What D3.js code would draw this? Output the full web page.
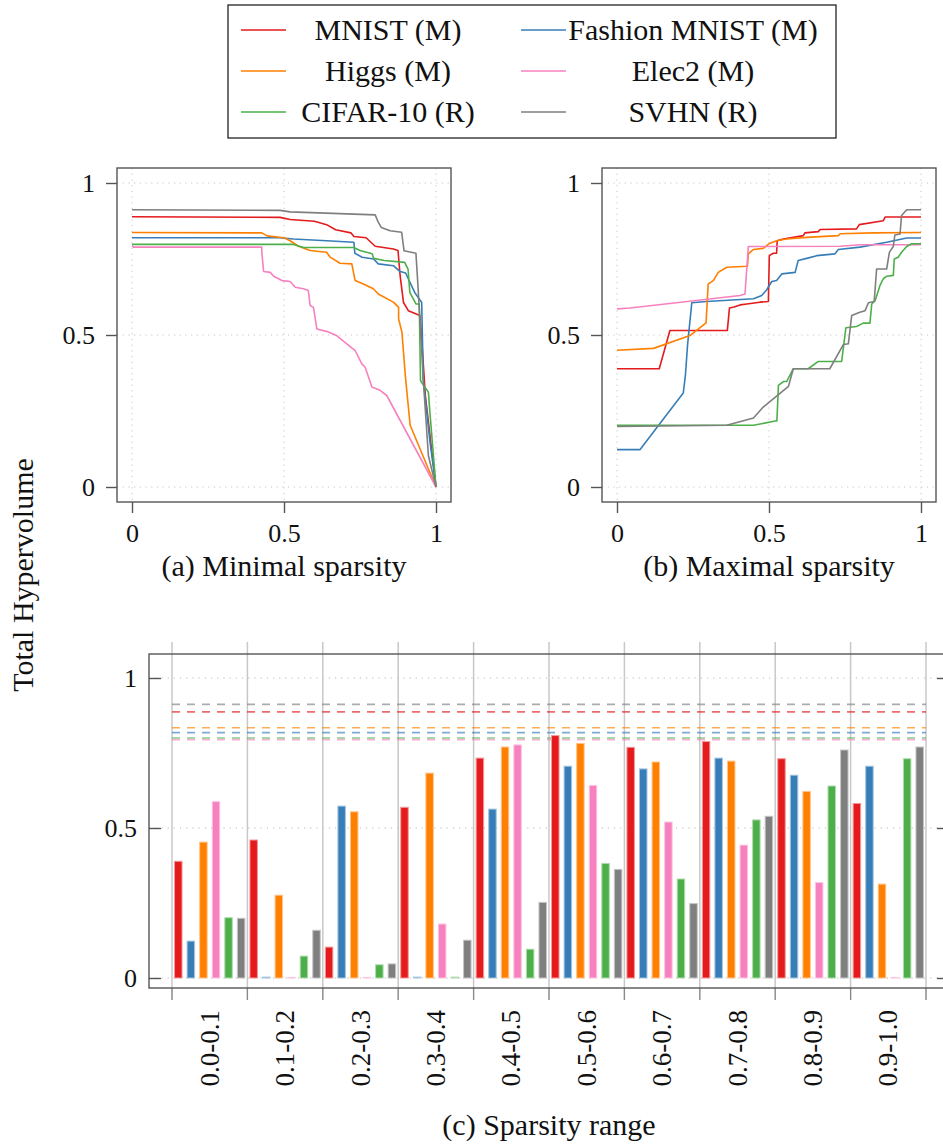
<!DOCTYPE html>
<html>
<head>
<meta charset="utf-8">
<script src="https://cdn.jsdelivr.net/npm/d3@7"></script>
<style>
body { margin: 0; background: #fff; }
svg text { font-family: "Liberation Serif", "DejaVu Serif", serif; }
</style>
</head>
<body>
<div id="graph"></div>
<script>
`use strict`;

// series (same order for legend, lines and bars)
let seriesNames = ['MNIST (M)', 'Fashion MNIST (M)', 'Higgs (M)', 'Elec2 (M)', 'CIFAR-10 (R)', 'SVHN (R)'];
let seriesColors = ['#e41a1c', '#377eb8', '#ff7f00', '#f781bf', '#4daf4a', '#7f7f7f'];

// (a) minimal sparsity: [sparsity, total hypervolume]
let minMNIST = [[0,0.889],[0.487,0.887],[0.52,0.88],[0.6,0.874],[0.64,0.863],[0.67,0.846],[0.72,0.836],[0.73,0.824],[0.77,0.82],[0.8,0.792],[0.86,0.783],[0.875,0.778],[0.882,0.695],[0.893,0.607],[0.909,0.58],[0.947,0.564],[0.952,0.5],[0.965,0.3],[1,0]];
let minFashion = [[0,0.82],[0.487,0.82],[0.53,0.816],[0.64,0.81],[0.73,0.805],[0.733,0.769],[0.757,0.756],[0.795,0.75],[0.81,0.734],[0.86,0.728],[0.88,0.71],[0.9,0.704],[0.93,0.64],[0.953,0.607],[0.958,0.355],[0.98,0.15],[1,0]];
let minHiggs = [[0,0.837],[0.427,0.836],[0.444,0.826],[0.5,0.82],[0.52,0.81],[0.548,0.792],[0.586,0.778],[0.64,0.772],[0.652,0.756],[0.684,0.736],[0.723,0.734],[0.734,0.679],[0.761,0.668],[0.794,0.652],[0.81,0.635],[0.86,0.608],[0.877,0.591],[0.877,0.553],[0.888,0.509],[0.899,0.367],[0.915,0.203],[1,0]];
let minElec2 = [[0,0.794],[0.005,0.789],[0.427,0.789],[0.427,0.772],[0.433,0.709],[0.455,0.706],[0.466,0.693],[0.493,0.679],[0.52,0.676],[0.537,0.657],[0.564,0.652],[0.58,0.646],[0.586,0.597],[0.597,0.591],[0.608,0.52],[0.64,0.512],[0.673,0.498],[0.734,0.449],[0.756,0.405],[0.767,0.394],[0.789,0.329],[0.816,0.318],[0.838,0.301],[1,0]];
let minCIFAR = [[0,0.798],[0.531,0.798],[0.565,0.788],[0.73,0.788],[0.75,0.778],[0.79,0.767],[0.795,0.752],[0.83,0.745],[0.897,0.739],[0.908,0.717],[0.914,0.64],[0.934,0.602],[0.945,0.602],[0.949,0.35],[0.96,0.333],[0.975,0.312],[0.98,0.245],[1,0]];
let minSVHN = [[0,0.912],[0.487,0.91],[0.52,0.905],[0.8,0.895],[0.81,0.871],[0.82,0.854],[0.849,0.843],[0.887,0.838],[0.895,0.777],[0.934,0.769],[0.942,0.64],[0.958,0.355],[0.975,0.103],[1,0]];

// (b) maximal sparsity
let maxMNIST = [[0,0.389],[0.139,0.389],[0.174,0.515],[0.363,0.515],[0.37,0.589],[0.385,0.592],[0.405,0.599],[0.427,0.602],[0.47,0.608],[0.498,0.61],[0.501,0.761],[0.514,0.769],[0.525,0.769],[0.527,0.81],[0.547,0.816],[0.613,0.827],[0.618,0.836],[0.662,0.84],[0.668,0.847],[0.788,0.849],[0.797,0.863],[0.876,0.876],[0.882,0.888],[1,0.888]];
let maxFashion = [[0,0.123],[0.076,0.123],[0.218,0.309],[0.225,0.367],[0.232,0.466],[0.246,0.606],[0.295,0.61],[0.449,0.619],[0.476,0.63],[0.492,0.648],[0.509,0.676],[0.525,0.679],[0.542,0.701],[0.586,0.706],[0.596,0.745],[0.624,0.752],[0.657,0.761],[0.717,0.767],[0.728,0.781],[0.799,0.789],[0.887,0.805],[0.953,0.819],[1,0.819]];
let maxHiggs = [[0,0.45],[0.12,0.456],[0.24,0.498],[0.293,0.54],[0.3,0.668],[0.317,0.679],[0.333,0.706],[0.361,0.723],[0.429,0.726],[0.432,0.767],[0.448,0.781],[0.481,0.785],[0.503,0.802],[0.525,0.81],[0.558,0.816],[0.624,0.821],[0.728,0.827],[0.734,0.833],[0.843,0.836],[1,0.837]];
let maxElec2 = [[0,0.586],[0.043,0.589],[0.405,0.63],[0.421,0.635],[0.432,0.791],[0.734,0.792],[0.8,0.797],[1,0.797]];
let maxCIFAR = [[0,0.203],[0.449,0.203],[0.52,0.217],[0.526,0.217],[0.531,0.334],[0.547,0.347],[0.558,0.347],[0.58,0.389],[0.629,0.389],[0.662,0.413],[0.739,0.413],[0.753,0.524],[0.788,0.528],[0.81,0.539],[0.832,0.539],[0.838,0.602],[0.849,0.613],[0.865,0.663],[0.876,0.685],[0.887,0.693],[0.909,0.696],[0.912,0.75],[0.925,0.756],[0.936,0.772],[0.953,0.791],[0.969,0.8],[1,0.8]];
let maxSVHN = [[0,0.199],[0.361,0.203],[0.449,0.227],[0.481,0.263],[0.514,0.29],[0.564,0.331],[0.58,0.389],[0.7,0.389],[0.745,0.469],[0.761,0.471],[0.772,0.564],[0.799,0.575],[0.816,0.58],[0.827,0.606],[0.846,0.61],[0.854,0.717],[0.887,0.717],[0.896,0.772],[0.909,0.792],[0.914,0.829],[0.931,0.832],[0.936,0.893],[0.953,0.912],[1,0.912]];

// (c) sparsity ranges
let rangeLabels = ['0.0-0.1', '0.1-0.2', '0.2-0.3', '0.3-0.4', '0.4-0.5', '0.5-0.6', '0.6-0.7', '0.7-0.8', '0.8-0.9', '0.9-1.0'];
let barMNIST = [0.389, 0.46, 0.103, 0.569, 0.733, 0.808, 0.769, 0.788, 0.731, 0.582];
let barFashion = [0.123, 0.003, 0.573, 0.003, 0.563, 0.706, 0.697, 0.733, 0.676, 0.706];
let barHiggs = [0.453, 0.276, 0.554, 0.683, 0.77, 0.782, 0.72, 0.723, 0.622, 0.313];
let barElec2 = [0.588, 0.002, 0.002, 0.18, 0.777, 0.642, 0.52, 0.443, 0.318, 0.002];
let barCIFAR = [0.201, 0.073, 0.044, 0.003, 0.096, 0.382, 0.33, 0.527, 0.64, 0.731];
let barSVHN = [0.199, 0.159, 0.047, 0.126, 0.252, 0.362, 0.248, 0.539, 0.76, 0.77];
// best total hypervolume per dataset (dashed lines)
let bestValues = [0.887, 0.818, 0.834, 0.794, 0.8, 0.912];

let yTicks = [0, 0.5, 1];
let xTicks = [0, 0.5, 1];

let minSeries = [minMNIST, minFashion, minHiggs, minElec2, minCIFAR, minSVHN];
let maxSeries = [maxMNIST, maxFashion, maxHiggs, maxElec2, maxCIFAR, maxSVHN];
let barSeries = [barMNIST, barFashion, barHiggs, barElec2, barCIFAR, barSVHN];

let w = 943, h = 1144;
let serif = '"Liberation Serif", "DejaVu Serif", serif';
let svg = d3.select('#graph').append('svg').attr('width', w).attr('height', h)
    .style('display', 'block').attr('font-family', serif);
let frameColor = '#555';
let gridColor = '#c4c4c4';
let textColor = '#111';

let styleAxis = function(a){
    a.attr('font-family', serif);
    a.select('.domain').remove();
    a.selectAll('line').attr('stroke', frameColor).attr('stroke-width', 1.4);
    a.selectAll('text').attr('font-size', 26).attr('fill', textColor);
};

let linePanel = function(left, top, data, caption){
    let size = 334, inset = 15;
    let x = d3.scaleLinear().domain([0, 1]).range([left + inset, left + size - inset]);
    let y = d3.scaleLinear().domain([0, 1]).range([top + size - inset, top + inset]);
    let g = svg.append('g');

    //dotted grid
    g.selectAll('.gx').data(xTicks).enter().append('line')
        .attr('x1', d => x(d)).attr('x2', d => x(d))
        .attr('y1', top).attr('y2', top + size)
        .attr('stroke', gridColor).attr('stroke-width', 1).attr('stroke-dasharray', '1.2,4.5');
    g.selectAll('.gy').data(yTicks).enter().append('line')
        .attr('y1', d => y(d)).attr('y2', d => y(d))
        .attr('x1', left).attr('x2', left + size)
        .attr('stroke', gridColor).attr('stroke-width', 1).attr('stroke-dasharray', '1.2,4.5');

    let line = d3.line().x(d => x(d[0])).y(d => y(d[1]));
    g.selectAll('.series').data(data).enter().append('path')
        .attr('d', line)
        .attr('fill', 'none')
        .attr('stroke', (d, i) => seriesColors[i])
        .attr('stroke-width', 1.6)
        .attr('stroke-linejoin', 'round');

    //frame
    g.append('rect').attr('x', left).attr('y', top).attr('width', size).attr('height', size)
        .attr('fill', 'none').attr('stroke', frameColor).attr('stroke-width', 1.4);

    let xAxis = d3.axisBottom(x).tickValues(xTicks).tickSize(11).tickPadding(11).tickFormat(d3.format(''));
    let yAxis = d3.axisLeft(y).tickValues(yTicks).tickSize(11).tickPadding(11).tickFormat(d3.format(''));
    styleAxis(g.append('g').attr('transform', 'translate(0,' + (top + size) + ')').call(xAxis));
    styleAxis(g.append('g').attr('transform', 'translate(' + left + ',0)').call(yAxis));

    svg.append('text').attr('x', left + size / 2).attr('y', 576)
        .attr('text-anchor', 'middle').attr('font-size', 30).attr('fill', textColor)
        .text(caption);
};

linePanel(117, 168, minSeries, '(a) Minimal sparsity');
linePanel(602, 168, maxSeries, '(b) Maximal sparsity');

// (c) bar chart
let bx0 = 149, bx1 = 949, by0 = 654, by1 = 988;
let groups = d3.scaleBand().domain(rangeLabels).range([172, 926]);
let inner = d3.scaleBand().domain(d3.range(seriesNames.length)).range([0, groups.bandwidth()]);
let yb = d3.scaleLinear().domain([0, 1]).range([978, 678]);
let barW = 7.5;
let bg = svg.append('g');

//dotted horizontal grid
bg.selectAll('.hg').data(yTicks).enter().append('line')
    .attr('x1', bx0).attr('x2', bx1).attr('y1', d => yb(d)).attr('y2', d => yb(d))
    .attr('stroke', '#b8b8b8').attr('stroke-width', 1).attr('stroke-dasharray', '1.2,5');

//group separators (tick lines running through the plot)
let bounds = rangeLabels.map(c => groups(c)).concat([groups.range()[1]]);
bg.selectAll('.sep').data(bounds).enter().append('line')
    .attr('x1', d => d).attr('x2', d => d).attr('y1', by0 - 12).attr('y2', by1 + 12)
    .attr('stroke', '#c8c8c8').attr('stroke-width', 1.5);
bg.selectAll('.sepTick').data(bounds).enter().append('line')
    .attr('x1', d => d).attr('x2', d => d).attr('y1', by1).attr('y2', by1 + 12)
    .attr('stroke', '#8a8a8a').attr('stroke-width', 1.2);

//dashed reference lines
bg.selectAll('.best').data(bestValues).enter().append('line')
    .attr('x1', 172).attr('x2', 926).attr('y1', d => yb(d)).attr('y2', d => yb(d))
    .attr('stroke', (d, i) => seriesColors[i]).attr('stroke-opacity', 0.65)
    .attr('stroke-width', 1.6).attr('stroke-dasharray', '8,7');

//bars
barSeries.forEach(function(values, s){
    let c = seriesColors[s];
    bg.selectAll('.bar' + s).data(values).enter().append('rect')
        .attr('x', (d, i) => groups(rangeLabels[i]) + inner(s) + inner.bandwidth() / 2 - barW / 2)
        .attr('y', d => yb(d))
        .attr('width', barW)
        .attr('height', d => yb(0) - yb(d))
        .attr('fill', c)
        .attr('stroke', d3.interpolateRgb(c, '#fff')(0.55))
        .attr('stroke-width', 1);
});

//frame
bg.append('rect').attr('x', bx0).attr('y', by0).attr('width', bx1 - bx0).attr('height', by1 - by0)
    .attr('fill', 'none').attr('stroke', frameColor).attr('stroke-width', 1.4);

let ybAxis = d3.axisLeft(yb).tickValues(yTicks).tickSize(-12).tickPadding(12).tickFormat(d3.format(''));
let ybRight = d3.axisRight(yb).tickValues(yTicks).tickSize(-12).tickFormat('');
styleAxis(bg.append('g').attr('transform', 'translate(' + bx0 + ',0)').call(ybAxis));
styleAxis(bg.append('g').attr('transform', 'translate(' + bx1 + ',0)').call(ybRight));

//rotated range labels
bg.selectAll('.rl').data(rangeLabels).enter().append('text')
    .attr('transform', d => 'translate(' + (groups(d) + groups.bandwidth() / 2 + 9) + ',1010)rotate(-90)')
    .attr('text-anchor', 'end').attr('font-size', 27).attr('fill', textColor)
    .text(d => d);

svg.append('text').attr('x', 549).attr('y', 1135)
    .attr('text-anchor', 'middle').attr('font-size', 30).attr('fill', textColor)
    .text('(c) Sparsity range');

svg.append('text')
    .attr('transform', 'translate(33,575)rotate(-90)')
    .attr('text-anchor', 'middle').attr('font-size', 30).attr('fill', textColor)
    .text('Total Hypervolume');

// legend
let legend = svg.append('g');
legend.append('rect').attr('x', 228).attr('y', 5).attr('width', 608).attr('height', 133)
    .attr('fill', '#fff').attr('stroke', textColor).attr('stroke-width', 1.2);
let rowY = [30, 71, 112];
let colLine = [241, 521], colText = [388, 693];
let items = legend.selectAll('.item').data(seriesNames).enter().append('g');
items.append('line')
    .attr('x1', (d, i) => colLine[i % 2]).attr('x2', (d, i) => colLine[i % 2] + 45)
    .attr('y1', (d, i) => rowY[Math.floor(i / 2)]).attr('y2', (d, i) => rowY[Math.floor(i / 2)])
    .attr('stroke', (d, i) => seriesColors[i]).attr('stroke-width', 1.6);
items.append('text')
    .attr('x', (d, i) => colText[i % 2]).attr('y', (d, i) => rowY[Math.floor(i / 2)] + 10)
    .attr('text-anchor', 'middle').attr('font-size', 30).attr('fill', textColor)
    .text(d => d);
</script>
</body>
</html>
